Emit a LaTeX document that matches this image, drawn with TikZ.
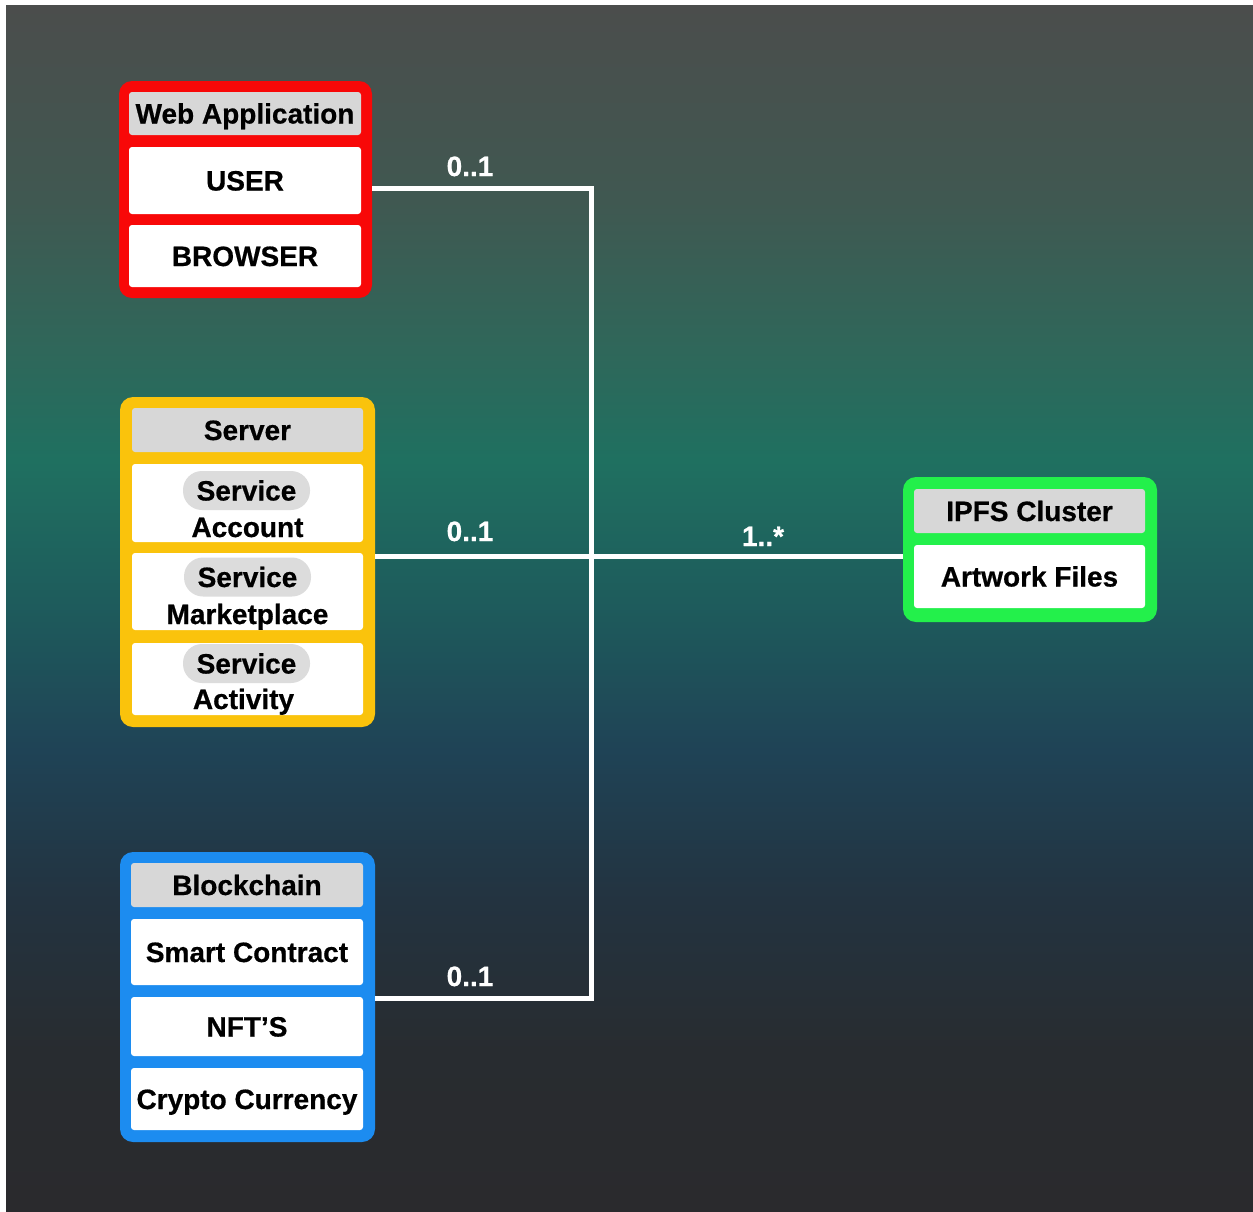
\documentclass[tikz,border=0pt]{standalone}
\usepackage{fontspec}
\setmainfont{Liberation Sans}[BoldFeatures={FakeBold=0.6}]

% background gradient stops
\definecolor{bgA}{RGB}{42,42,45}
\definecolor{bgB}{RGB}{40,44,48}
\definecolor{bgC}{RGB}{35,51,64}
\definecolor{bgD}{RGB}{31,67,86}
\definecolor{bgE}{RGB}{30,92,92}
\definecolor{bgF}{RGB}{31,112,96}
\definecolor{bgG}{RGB}{47,103,90}
\definecolor{bgH}{RGB}{64,88,81}
\definecolor{bgI}{RGB}{75,77,76}

% frame and cell colours
\definecolor{webred}{RGB}{248,8,8}
\definecolor{srvyellow}{RGB}{250,195,12}
\definecolor{chainblue}{RGB}{28,140,240}
\definecolor{ipfsgreen}{RGB}{35,240,75}
\definecolor{headgray}{RGB}{215,215,215}
\definecolor{pillgray}{RGB}{220,220,220}

\pgfdeclareverticalshading{backdrop}{100bp}{
  color(0bp)=(bgA); color(25bp)=(bgA); color(31.67bp)=(bgB);
  color(37.89bp)=(bgC); color(44.11bp)=(bgD); color(50.33bp)=(bgE);
  color(56.14bp)=(bgF); color(60.7bp)=(bgG); color(66.92bp)=(bgH);
  color(75bp)=(bgI); color(100bp)=(bgI)}

\begin{document}
\begin{tikzpicture}[x=1pt,y=-1pt,
  every node/.style={font=\bfseries\fontsize{28}{30}\selectfont},
  frame/.style={fill=#1, draw=none, rounded corners=13pt, inner sep=0pt},
  head/.style={fill=headgray, draw=none, rounded corners=3pt, inner sep=0pt,
    text height=20pt, text depth=0pt},
  cell/.style={fill=white, draw=none, rounded corners=3pt, inner sep=0pt,
    text height=20pt, text depth=0pt},
  pill/.style={fill=pillgray, draw=none, rounded corners=19pt, inner sep=0pt,
    minimum width=127pt, minimum height=39pt, text height=20pt, text depth=0pt},
  caption/.style={anchor=base, inner sep=0pt},
  link/.style={draw=white, line width=5pt, line join=miter},
  mult/.style={text=white, anchor=base, inner sep=0pt}
]
% page and backdrop
\fill[white] (0,0) rectangle (1253,1211);
\useasboundingbox (0,0) rectangle (1253,1211);
\shade[shading=backdrop] (6,5) rectangle (1253,1211);

% ---- Web Application ----
\node[frame=webred, minimum width=253pt, minimum height=217pt] (web) at (245.5,189.5) {};
\node[head, minimum width=232pt, minimum height=43pt] (webhead) at (245,113.5) {Web Application};
\node[cell, minimum width=232pt, minimum height=67pt] (user) at (245,180.5) {USER};
\node[cell, minimum width=232pt, minimum height=62pt] (browser) at (245,256) {BROWSER};

% ---- Server ----
\node[frame=srvyellow, minimum width=255pt, minimum height=330pt] (server) at (247.5,562) {};
\node[head, minimum width=231pt, minimum height=44pt] (srvhead) at (247.5,430) {Server};
\node[cell, minimum width=231pt, minimum height=78pt] (account) at (247.5,503) {};
\node[cell, minimum width=231pt, minimum height=77pt] (market) at (247.5,591.5) {};
\node[cell, minimum width=231pt, minimum height=72pt] (activity) at (247.5,679) {};
\node[pill] (svc1) at (246.5,490.5) {Service};
\node[caption] (acct) at (247.5,537) {Account};
\node[pill] (svc2) at (247.5,577) {Service};
\node[caption] (mkt) at (247.5,624) {Marketplace};
\node[pill] (svc3) at (246.5,663.5) {Service};
\node[caption] (act) at (243.5,709) {Activity};

% ---- Blockchain ----
\node[frame=chainblue, minimum width=255pt, minimum height=290pt] (chain) at (247.5,997) {};
\node[head, minimum width=232pt, minimum height=44pt] (chainhead) at (247,885) {Blockchain};
\node[cell, minimum width=232pt, minimum height=66pt] (smart) at (247,952) {Smart Contract};
\node[cell, minimum width=232pt, minimum height=59pt] (nft) at (247,1026.5) {NFT'S};
\node[cell, minimum width=232pt, minimum height=62pt] (crypto) at (247,1099) {Crypto Currency};

% ---- IPFS Cluster ----
\node[frame=ipfsgreen, minimum width=254pt, minimum height=145pt] (ipfs) at (1030,549.5) {};
\node[head, minimum width=231pt, minimum height=44pt] (ipfshead) at (1029.5,511) {IPFS Cluster};
\node[cell, minimum width=231pt, minimum height=63pt] (artwork) at (1029.5,576.5) {Artwork Files};

% ---- connectors ----
\coordinate (bustop) at (591,188);
\coordinate (busmid) at (591,556);
\coordinate (busbot) at (591,998);
\draw[link] (web.east |- bustop) -- (bustop) -- (busbot) -- (chain.east |- busbot);
\draw[link] (server.east |- busmid) -- (ipfs.west |- busmid);

% ---- multiplicities ----
\node[mult] (m1) at (470,176) {0..1};
\node[mult] (m2) at (470,541) {0..1};
\node[mult] (m3) at (470,986) {0..1};
\node[mult] (m4) at (763,546) {1..*};
\end{tikzpicture}
\end{document}
